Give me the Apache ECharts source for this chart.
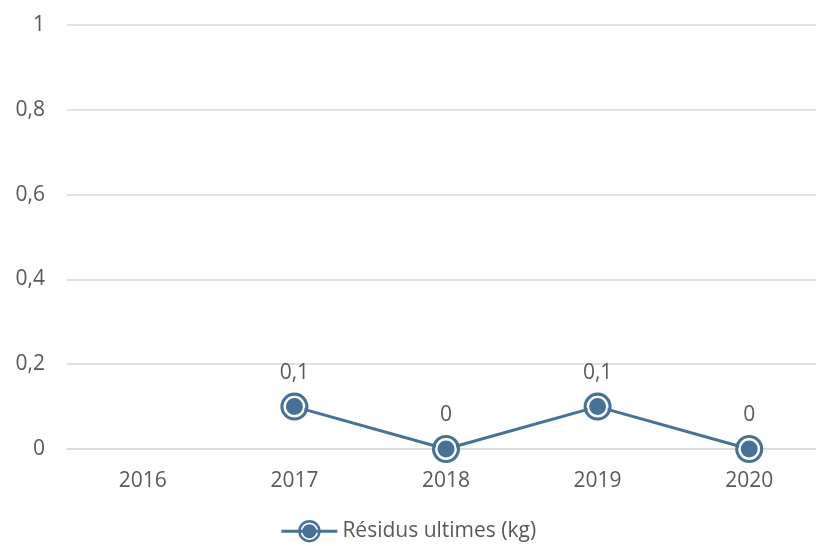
<!DOCTYPE html>
<html>
<head>
<meta charset="utf-8">
<script src="https://cdn.jsdelivr.net/npm/echarts@6/dist/echarts.min.js"></script>
<style>
  html, body { margin: 0; padding: 0; background: #fff; }
  #chart { width: 816px; height: 546px; }
</style>
</head>
<body>
<div id="chart"></div>
<script>
// données
var years = ['2016', '2017', '2018', '2019', '2020'];
var residus = [null, 0.1, 0, 0.1, 0];
var yTicks = [0, 0.2, 0.4, 0.6, 0.8, 1];
var seriesName = 'Résidus ultimes (kg)';

var blue = '#46729a';
var grey = '#595959';
var font = '"Open Sans", "Noto Sans", sans-serif';

function virgule(v) {
    return String(v).replace('.', ',');
}

// marqueur : anneau + point central
var ringPath = 'path://M27,0 A27,27 0 1,1 27,54 A27,27 0 1,1 27,0 Z ' +
    'M27,6 A21,21 0 1,0 27,48 A21,21 0 1,0 27,6 Z ' +
    'M27,10 A17,17 0 1,1 27,44 A17,17 0 1,1 27,10 Z';

var myChart = echarts.init(document.getElementById('chart'));

var option = {
    animation: false,
    grid: {
        left: 67,
        width: 758,
        top: 25,
        bottom: 97,
        outerBoundsMode: 'none'
    },
    legend: {
        data: [seriesName],
        top: 515,
        left: 'center',
        itemWidth: 56,
        itemHeight: 28,
        itemGap: 4,
        lineStyle: { width: 3 },
        textStyle: { color: grey, fontSize: 21, fontFamily: font }
    },
    xAxis: {
        type: 'category',
        data: years,
        boundaryGap: true,
        axisLine: { lineStyle: { color: '#d9d9d9', width: 1.5 } },
        axisTick: { show: false },
        axisLabel: { color: grey, fontSize: 21, fontFamily: font, margin: 22 }
    },
    yAxis: {
        type: 'value',
        min: yTicks[0],
        max: yTicks[yTicks.length - 1],
        interval: 0.2,
        axisLine: { show: false },
        axisTick: { show: false },
        splitLine: { lineStyle: { color: '#d9d9d9', width: 1.5 } },
        axisLabel: {
            color: grey, fontSize: 21, fontFamily: font, margin: 22,
            formatter: function (v) { return virgule(Math.round(v * 10) / 10); }
        }
    },
    series: [{
        name: seriesName,
        type: 'line',
        data: residus,
        z: 2,
        symbol: ringPath,
        symbolSize: 28,
        lineStyle: { color: blue, width: 3 },
        itemStyle: { color: blue },
        label: {
            show: true,
            position: 'top',
            distance: 9,
            color: grey,
            fontSize: 21,
            fontFamily: font,
            formatter: function (p) { return virgule(p.value); }
        }
    }, {
        // anneau blanc + point central
        name: 'centre',
        type: 'line',
        data: residus,
        z: 3,
        silent: true,
        symbol: 'circle',
        symbolSize: 19,
        lineStyle: { width: 0, opacity: 0 },
        itemStyle: { color: blue, borderColor: '#fff', borderWidth: 2 },
        label: { show: false }
    }]
};

myChart.setOption(option);

window.onresize = function () {
    myChart.resize();
};
</script>
</body>
</html>
